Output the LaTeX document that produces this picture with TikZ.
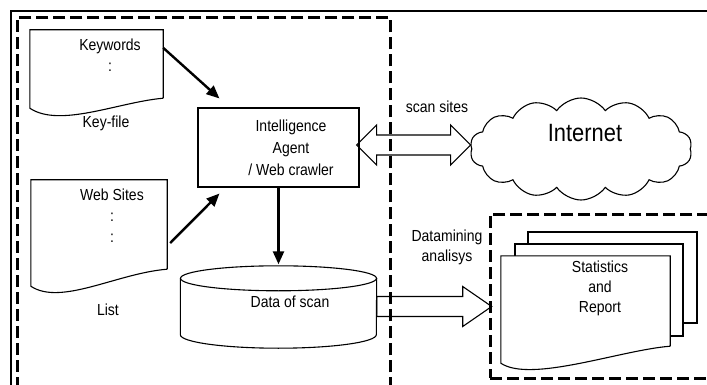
\documentclass[tikz,border=0pt]{standalone}
\usepackage{fontspec}
\setmainfont{Liberation Sans}[FakeStretch=0.875]
\usetikzlibrary{arrows.meta,shapes.symbols}

\begin{document}
\begin{tikzpicture}[x=1pt, y=-1pt, line join=miter,
  outl/.style={line width=1.1pt},
  ar/.style={line width=2.4pt, -{Triangle[length=13pt,width=11pt]}},
  dbox/.style={draw, line width=2.6pt, dash pattern=on 12pt off 5pt, inner sep=0pt},
  main/.style={inner sep=0pt},
  lbl/.style={font=\fontsize{16pt}{21pt}\selectfont, align=center, inner sep=0pt}]
  \useasboundingbox (0,0) rectangle (707,385);
  \clip (0,0) rectangle (707,385);
  \fill[white] (0,0) rectangle (707,385);

  % frame and dashed boxes
  \draw[line width=2.8pt] (11,400) -- (11,11) -- (720,11);
  \node[dbox, anchor=north west, minimum width=373pt, minimum height=390pt] (sys) at (16,16) {};
  \node[dbox, anchor=north west, minimum width=240pt, minimum height=164pt] (out) at (489,213) {};

  % key file
  \node[main, minimum width=133pt, minimum height=68pt] (kw) at (96.5,64) {};
  \draw[outl] (kw.south east) -- (kw.north east) -- (kw.north west) -- ([yshift=-10pt]kw.south west)
    .. controls +(30pt,-20pt) and +(-45pt,-4pt) .. (kw.south east);
  \node[lbl] at (110,55.5) {Keywords\\:};
  \node[lbl] at (106,123) {Key-file};

  % list of sites
  \node[main, minimum width=136pt, minimum height=89pt] (ws) at (99,224.5) {};
  \draw[outl] (ws.south east) -- (ws.north east) -- (ws.north west) -- ([yshift=-17pt]ws.south west)
    .. controls +(30pt,-20pt) and +(-50pt,-4pt) .. (ws.south east);
  \node[lbl] at (112,216) {Web Sites\\:\\:};
  \node[lbl] at (108,310) {List};

  % agent
  \node[main, draw, outl, minimum width=161pt, minimum height=79pt] (ia) at (278.5,147.5) {};
  \node[lbl, font=\fontsize{16pt}{22pt}\selectfont] at (291,147.5) {Intelligence\\Agent\\/ Web crawler};

  % database
  \node[main, minimum width=196pt, minimum height=56pt] (db) at (278.5,306.5) {};
  \draw[outl] (db.north) ellipse [x radius=98pt, y radius=12.5pt];
  \draw[outl] (db.north west) -- (db.south west) arc [start angle=180, end angle=360, x radius=98pt, y radius=13.5pt] -- (db.north east);
  \node[lbl] at (290,302) {Data of scan};

  % internet
  \node[cloud, draw, outl, cloud puffs=14, cloud puff arc=110, minimum width=222pt, minimum height=102pt] (net) at (581,149) {};
  \node[font=\fontsize{25pt}{28pt}\selectfont, inner sep=0pt] at (585,133) {Internet};

  % report pages
  \node[main, draw, outl, fill=white, minimum width=169pt, minimum height=91pt] (r3) at (612.5,277.5) {};
  \node[main, draw, outl, fill=white, minimum width=168pt, minimum height=92pt] (r2) at (599,290) {};
  \node[main, minimum width=169pt, minimum height=90pt] (r1) at (585.5,301) {};
  \filldraw[outl, fill=white] (r1.south east) -- (r1.north east) -- (r1.north west) -- ([yshift=-17pt]r1.south west)
    .. controls +(30pt,-20pt) and +(-50pt,-4pt) .. (r1.south east);
  \node[lbl, font=\fontsize{16pt}{20pt}\selectfont] at (600,288) {Statistics\\and\\Report};

  % arrows
  \draw[ar] ([yshift=-18pt]kw.north east) -- ([xshift=22pt,yshift=9pt]ia.north west);
  \draw[ar] ([xshift=3pt,yshift=-18.5pt]ws.east) -- ([xshift=22pt,yshift=-6pt]ia.south west);
  \draw[ar] (ia.south) -- ([yshift=14pt]db.north);

  % hollow arrows
  \draw[outl] ([xshift=-3pt,yshift=2.5pt]ia.east) -- ++(20pt,20pt) -- ++(0,-10pt) -- ++(74pt,0) -- ++(0,10pt)
    -- ++(20pt,-20pt) -- ++(-20pt,-20pt) -- ++(0,10pt) -- ++(-74pt,0) -- ++(0,-10pt) -- cycle;
  \node[lbl] at (437,107) {scan sites};
  \draw[outl] ([yshift=10pt]db.east) -- ++(86pt,0) -- ++(0,10pt) -- ++(29pt,-20pt) -- ++(-29pt,-20pt)
    -- ++(0,10pt) -- ++(-86pt,0) -- cycle;
  \node[lbl, font=\fontsize{16pt}{20pt}\selectfont] at (447,247) {Datamining\\analisys};
\end{tikzpicture}
\end{document}
